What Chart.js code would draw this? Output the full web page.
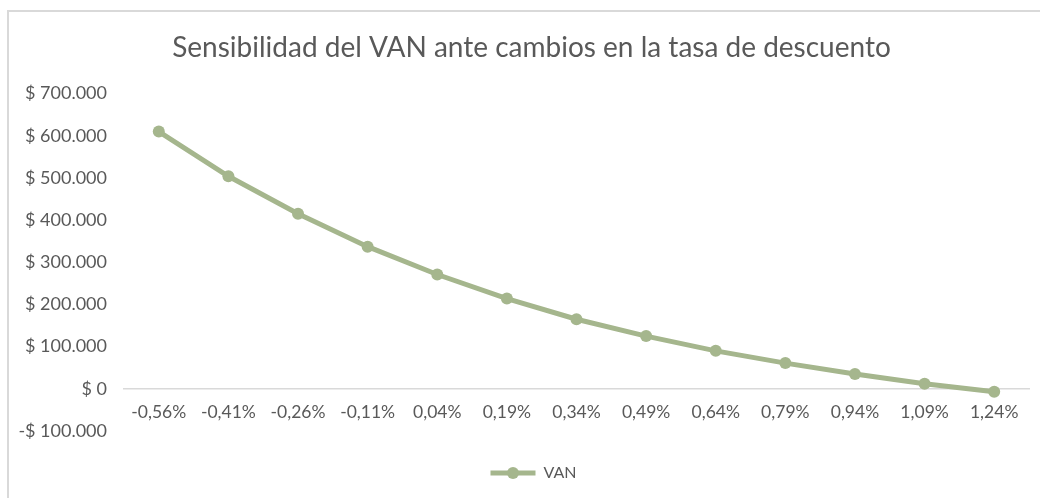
<!DOCTYPE html>
<html>
<head>
<meta charset="utf-8">
<script src="https://cdn.jsdelivr.net/npm/chart.js@4/dist/chart.umd.min.js"></script>
<style>
  html, body { margin: 0; padding: 0; background: #fff; }
  #wrap { position: relative; width: 1040px; height: 498px; overflow: hidden; }
  #frame { position: absolute; left: 7px; top: 10px; width: 1100px; height: 600px; border: 2px solid #d9d9d9; }
  #graficoVAN { position: absolute; left: 0; top: 0; }
</style>
</head>
<body>
<div id="wrap">
  <div id="frame"></div>
  <canvas id="graficoVAN" width="1040" height="498"></canvas>
</div>
<script>
const tasas = ["-0,56%", "-0,41%", "-0,26%", "-0,11%", "0,04%", "0,19%", "0,34%",
               "0,49%", "0,64%", "0,79%", "0,94%", "1,09%", "1,24%"];
const van = [610000, 504000, 415000, 337000, 271000, 214000, 165000,
             125000, 90000, 61000, 35000, 12000, -7000];
const yMin = -100000;
const yMax = 700000;
const yPaso = 100000;

const verde = "#a5b68d";
const gris = "#595959";
const fuente = "Lato, 'Open Sans', sans-serif";

function formatoPesos(v) {
  const abs = Math.abs(v).toLocaleString("es-CL").replace(/,/g, ".");
  return (v < 0 ? "-$ " : "$ ") + abs;
}

// Excel centra titulo y leyenda sobre el marco, no sobre el canvas
const ajustes = {
  id: "ajustes",
  afterLayout(chart) {
    const t = chart.titleBlock;
    t.left += 17; t.right += 17;
    const lg = chart.legend;
    const dy = 473 - (lg.top + lg.options.labels.padding + 8);
    lg.top += dy; lg.bottom += dy;
    lg.left += 19; lg.right += 19;
  },
  // circulito sobre la linea de la leyenda
  afterDraw(chart) {
    const box = chart.legend.legendHitBoxes[0];
    if (!box) return;
    const ctx = chart.ctx;
    const bw = chart.legend.options.labels.boxWidth;
    ctx.save();
    ctx.fillStyle = verde;
    ctx.beginPath();
    ctx.arc(box.left + bw / 2, box.top + box.height / 2, 6, 0, Math.PI * 2);
    ctx.fill();
    ctx.restore();
  }
};

document.addEventListener("DOMContentLoaded", () => {
  const ctx = document.getElementById("graficoVAN").getContext("2d");

  new Chart(ctx, {
    type: "line",
    data: {
      labels: tasas,
      datasets: [{
        label: "VAN",
        data: van,
        borderColor: verde,
        backgroundColor: verde,
        borderWidth: 5,
        pointRadius: 6,
        pointHoverRadius: 6,
        pointBorderWidth: 0,
        tension: 0
      }]
    },
    options: {
      responsive: false,
      animation: false,
      layout: { padding: { left: 0, right: 11, top: 21, bottom: 31 } },
      plugins: {
        title: {
          display: true,
          text: "Sensibilidad del VAN ante cambios en la tasa de descuento",
          color: gris,
          font: { family: fuente, size: 28, weight: "normal" },
          padding: { top: 10, bottom: 29 }
        },
        legend: {
          position: "bottom",
          labels: {
            color: gris,
            font: { family: fuente, size: 16 },
            boxWidth: 45,
            boxHeight: 5,
            padding: 10,
            generateLabels: (chart) => [{
              text: "VAN",
              fillStyle: verde,
              strokeStyle: verde,
              lineWidth: 0,
              fontColor: gris,
              datasetIndex: 0
            }]
          }
        },
        tooltip: { enabled: false }
      },
      scales: {
        x: {
          position: { y: 0 },
          offset: true,
          grid: { display: false, drawTicks: false },
          border: { color: "#d9d9d9", width: 1.5 },
          ticks: {
            color: gris,
            font: { family: fuente, size: 17.5 },
            padding: 13,
            maxRotation: 0
          }
        },
        y: {
          min: yMin,
          max: yMax,
          grid: { display: false, drawTicks: false },
          border: { display: false },
          afterFit: (scale) => { scale.width = 124; },
          ticks: {
            stepSize: yPaso,
            color: gris,
            font: { family: fuente, size: 18 },
            padding: 17,
            callback: (v) => formatoPesos(v)
          }
        }
      }
    },
    plugins: [ajustes]
  });
});
</script>
</body>
</html>
